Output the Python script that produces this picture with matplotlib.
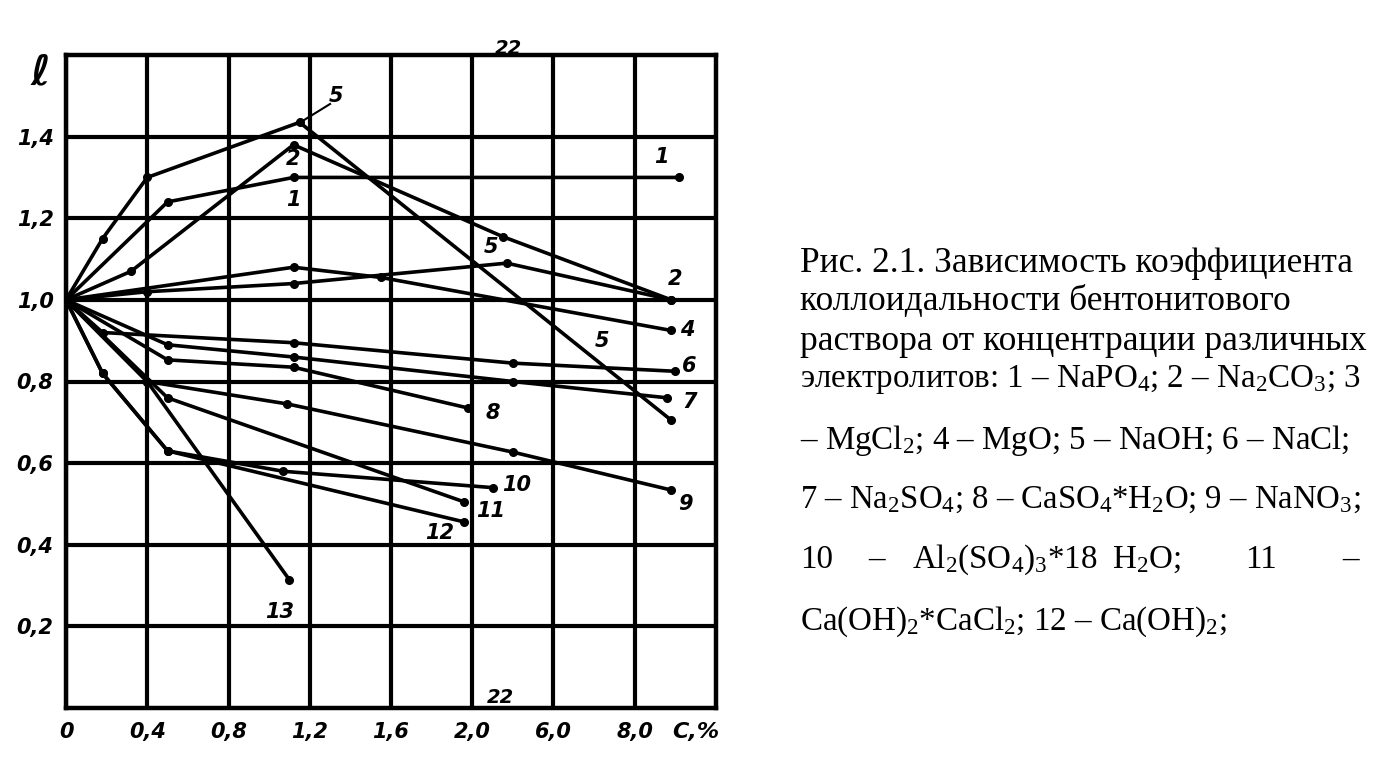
import numpy as np
import matplotlib
matplotlib.use("Agg")
import matplotlib.pyplot as plt

plt.rcParams['mathtext.fontset'] = 'custom'
plt.rcParams['mathtext.rm'] = 'Liberation Serif'
plt.rcParams['mathtext.it'] = 'Liberation Serif:italic'

# ---- axis ticks / labels ----
x_ticks = [0, 0.4, 0.8, 1.2, 1.6, 2.0, 2.4, 2.8]
x_tick_labels = ["0", "0,4", "0,8", "1,2", "1,6", "2,0", "6,0", "8,0"]
y_ticks = [0.2, 0.4, 0.6, 0.8, 1.0, 1.2, 1.4]
y_tick_labels = ["0,2", "0,4", "0,6", "0,8", "1,0", "1,2", "1,4"]

# ---- curves (concentration position, colloidality coefficient) ----
c1_x = [0, 0.5, 1.12, 3.02];              c1_y = [1.0, 1.24, 1.30, 1.30]
c2_x = [0, 0.32, 1.12, 2.15, 2.98];       c2_y = [1.0, 1.07, 1.38, 1.155, 1.0]
c3_x = [0, 0.4, 1.12, 2.17, 2.98];        c3_y = [1.0, 1.02, 1.04, 1.09, 1.0]
c4_x = [0, 1.12, 1.55, 2.98];             c4_y = [1.0, 1.08, 1.055, 0.925]
c5_x = [0, 0.18, 0.4, 1.15, 2.98];        c5_y = [1.0, 1.15, 1.30, 1.435, 0.705]
c6_x = [0, 0.18, 1.12, 2.2, 3.0];         c6_y = [1.0, 0.92, 0.895, 0.845, 0.825]
c7_x = [0, 0.5, 1.12, 2.2, 2.96];         c7_y = [1.0, 0.89, 0.86, 0.80, 0.76]
c8_x = [0, 0.5, 1.12, 1.98];              c8_y = [1.0, 0.853, 0.835, 0.735]
c9_x = [0, 0.4, 1.09, 2.2, 2.98];         c9_y = [1.0, 0.80, 0.745, 0.627, 0.534]
c10_x = [0, 0.18, 0.5, 1.07, 2.1];        c10_y = [1.0, 0.82, 0.63, 0.58, 0.54]
c11_x = [0, 0.5, 1.96];                   c11_y = [1.0, 0.76, 0.505]
c12_x = [0, 0.18, 0.5, 1.96];             c12_y = [1.0, 0.82, 0.63, 0.456]
c13_x = [0, 0.4, 1.1];                    c13_y = [1.0, 0.80, 0.314]

curves = [(c1_x, c1_y), (c2_x, c2_y), (c3_x, c3_y), (c4_x, c4_y), (c5_x, c5_y),
          (c6_x, c6_y), (c7_x, c7_y), (c8_x, c8_y), (c9_x, c9_y), (c10_x, c10_y),
          (c11_x, c11_y), (c12_x, c12_y), (c13_x, c13_y)]

# curve number labels: (text, x, y)
curve_labels = [("5", 1.33, 1.50), ("2", 1.12, 1.345), ("1", 1.12, 1.245),
                ("1", 2.93, 1.35), ("5", 2.09, 1.13), ("2", 3.0, 1.05),
                ("4", 3.06, 0.925), ("5", 2.64, 0.90), ("6", 3.07, 0.838),
                ("7", 3.07, 0.75), ("8", 2.10, 0.722), ("9", 3.05, 0.50),
                ("10", 2.22, 0.547), ("11", 2.09, 0.483), ("12", 1.84, 0.43),
                ("13", 1.05, 0.235)]

caption_lines = [
    "Рис. 2.1. Зависимость коэффициента",
    "коллоидальности бентонитового",
    "раствора от концентрации различных",
    r"электролитов: 1 – NaPO$_4$; 2 – Na$_2$CO$_3$; 3",
    r"– MgCl$_2$; 4 – MgO; 5 – NaOH; 6 – NaCl;",
    r"7 – Na$_2$SO$_4$; 8 – CaSO$_4$*H$_2$O; 9 – NaNO$_3$;",
    None,
    r"Ca(OH)$_2$*CaCl$_2$; 12 – Ca(OH)$_2$;",
]
caption_y = [263, 301, 341, 380, 440, 500, 560, 622]
caption_size = [25.5, 25.5, 25.5, 23.8, 23.8, 23.6, 23.8, 23.8]
justified_parts = [("10", 800), ("–", 868), (r"Al$_2$(SO$_4$)$_3$*18", 912),
                   (r"H$_2$O;", 1112), ("11", 1245), ("–", 1342)]

W, H = 1398, 773
fig = plt.figure(figsize=(W / 100, H / 100), dpi=100)
ax = fig.add_axes([66 / W, 1 - 708 / H, (716 - 66) / W, (708 - 55) / H])
ax.set_xlim(0, 3.2)
ax.set_ylim(0, 1.6)

hand = dict(fontweight='bold', fontstyle='italic', family='DejaVu Sans', color='black')
hand_tick = {k: v for k, v in hand.items() if k != 'color'}

ax.set_xticks(x_ticks)
ax.set_xticklabels(x_tick_labels, fontsize=15, **hand_tick)
ax.set_yticks(y_ticks)
ax.set_yticklabels(y_tick_labels, fontsize=15, **hand_tick)
ax.tick_params(axis='y', length=0, pad=9)
ax.tick_params(axis='x', length=0, pad=10)
ax.grid(True, color='black', linewidth=3.0)
ax.set_axisbelow(True)
for s in ax.spines.values():
    s.set_linewidth(3.2)
    s.set_color('black')

for cx, cy in curves:
    ax.plot(cx, cy, color='black', linewidth=2.6, marker='o', markersize=5.5,
            solid_capstyle='round', zorder=3)

for t, x, y in curve_labels:
    ax.text(x, y, t, fontsize=15, ha='center', va='center', zorder=4, **hand)

# leader for top "5"
ax.plot([1.17, 1.30], [1.44, 1.48], color='black', linewidth=1.5)

ax.text(3.1, -0.035, "C,%", fontsize=16, ha='center', va='top', clip_on=False, **hand)
ax.text(2.18, 1.615, "22", fontsize=14, ha='center', va='center', clip_on=False, **hand)
ax.text(2.14, 0.025, "22", fontsize=14, ha='center', va='center', clip_on=False, **hand)
fig.text(40 / W, 1 - 72 / H, "ℓ", fontsize=30, ha='center', va='center', **hand)

for line, yc, fs in zip(caption_lines, caption_y, caption_size):
    if line is None:
        for t, xp in justified_parts:
            fig.text(xp / W, 1 - yc / H, t, fontsize=fs, family='Liberation Serif',
                     ha='left', va='center')
    else:
        fig.text(800 / W, 1 - yc / H, line, fontsize=fs, family='Liberation Serif',
                 ha='left', va='center')

fig.savefig("out.png", dpi=100, facecolor='white')
